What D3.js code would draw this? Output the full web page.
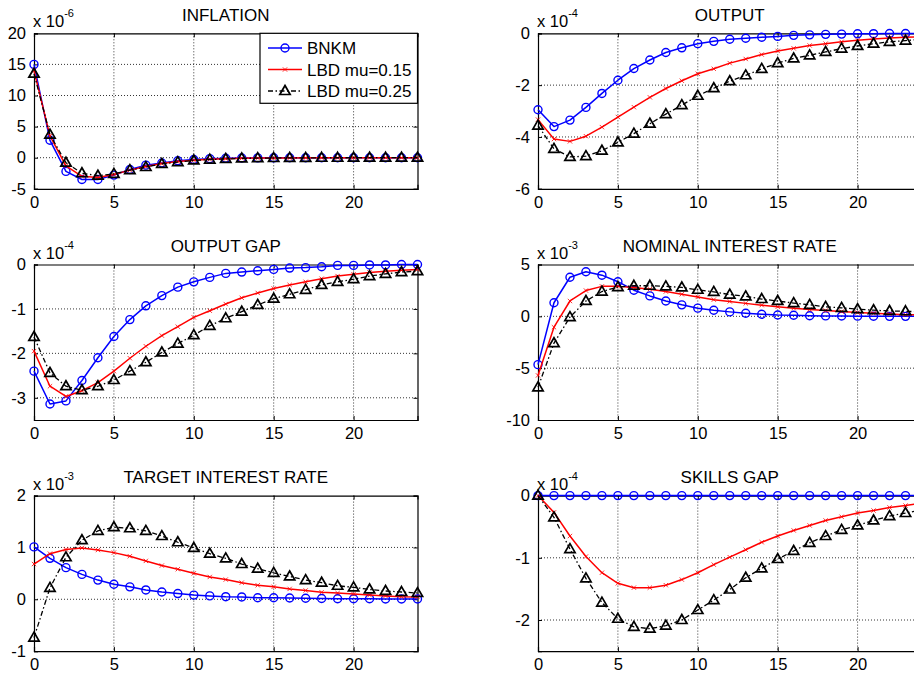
<!DOCTYPE html>
<html><head><meta charset="utf-8">
<script src="https://cdn.jsdelivr.net/npm/d3@7"></script>
<style>
body{margin:0;background:#fff}
svg{display:block;font-family:"Liberation Sans",Arial,Helvetica,sans-serif}
</style>
</head><body>
<svg id="chart" width="914" height="673"></svg>
<script>
// ---------------- DATA ----------------
const periods = d3.range(0, 25);
const xTickValues = [0, 5, 10, 15, 20];
const seriesNames = ["BNKM", "LBD mu=0.15", "LBD mu=0.25"];
const panelTitles = ["INFLATION", "OUTPUT", "OUTPUT GAP", "NOMINAL INTEREST RATE", "TARGET INTEREST RATE", "SKILLS GAP"];
const panelExponents = ["-6", "-4", "-4", "-3", "-3", "-4"];
const yDomains = [[-5, 20], [-6, 0], [-3.5, 0], [-10, 5], [-1, 2], [-2.5, 0]];
const yTickValues = [[-5, 0, 5, 10, 15, 20], [-6, -4, -2, 0], [-3, -2, -1, 0], [-10, -5, 0, 5], [-1, 0, 1, 2], [-2, -1, 0]];

// INFLATION (x 1e-6)
const inflationBNKM = [15.0, 2.8, -2.2, -3.5, -3.5, -2.8, -1.9, -1.2, -0.85, -0.5, -0.3, -0.15, -0.1, -0.05, -0.03, -0.02, -0.01, -0.01, 0, 0, 0, 0, 0, 0, 0];
const inflationLBD15 = [14.0, 3.5, -1.3, -3.0, -3.2, -2.7, -2.0, -1.4, -0.95, -0.6, -0.4, -0.25, -0.15, -0.1, -0.06, -0.04, -0.03, -0.02, -0.01, -0.01, 0, 0, 0, 0, 0];
const inflationLBD25 = [13.5, 3.7, -0.8, -2.5, -2.9, -2.6, -2.0, -1.5, -1.0, -0.7, -0.45, -0.3, -0.2, -0.12, -0.07, -0.05, -0.03, -0.02, -0.01, -0.01, 0, 0, 0, 0, 0];

// OUTPUT (x 1e-4)
const outputBNKM = [-2.95, -3.6, -3.35, -2.86, -2.32, -1.81, -1.36, -1.03, -0.74, -0.56, -0.40, -0.31, -0.23, -0.19, -0.15, -0.12, -0.08, -0.06, -0.04, -0.03, -0.02, -0.015, -0.01, -0.01, -0.005];
const outputLBD15 = [-3.33, -4.08, -4.17, -3.97, -3.62, -3.23, -2.85, -2.47, -2.13, -1.83, -1.56, -1.37, -1.15, -0.99, -0.82, -0.68, -0.58, -0.47, -0.40, -0.33, -0.27, -0.22, -0.18, -0.15, -0.13];
const outputLBD25 = [-3.56, -4.46, -4.77, -4.74, -4.53, -4.21, -3.87, -3.49, -3.12, -2.77, -2.41, -2.12, -1.85, -1.62, -1.37, -1.15, -0.97, -0.85, -0.72, -0.59, -0.49, -0.40, -0.33, -0.28, -0.23];

// OUTPUT GAP (x 1e-4)
const gapBNKM = [-2.40, -3.14, -3.07, -2.61, -2.10, -1.62, -1.24, -0.93, -0.70, -0.51, -0.39, -0.29, -0.20, -0.17, -0.14, -0.11, -0.08, -0.07, -0.05, -0.02, -0.02, -0.01, -0.01, 0, 0];
const gapLBD15 = [-1.95, -2.74, -2.97, -2.84, -2.66, -2.40, -2.11, -1.84, -1.60, -1.40, -1.19, -1.04, -0.89, -0.75, -0.64, -0.54, -0.46, -0.39, -0.32, -0.26, -0.22, -0.18, -0.15, -0.13, -0.11];
const gapLBD25 = [-1.63, -2.44, -2.74, -2.83, -2.74, -2.60, -2.40, -2.20, -1.98, -1.78, -1.59, -1.38, -1.21, -1.06, -0.91, -0.77, -0.67, -0.57, -0.46, -0.39, -0.33, -0.26, -0.21, -0.17, -0.15];

// NOMINAL INTEREST RATE (x 1e-3)
const nominalBNKM = [-4.66, 1.31, 3.77, 4.30, 3.97, 3.34, 2.52, 1.97, 1.48, 1.11, 0.79, 0.59, 0.43, 0.30, 0.20, 0.13, 0.10, 0.06, 0.04, 0.03, 0.02, 0.01, 0, 0, 0];
const nominalLBD15 = [-5.70, -1.05, 1.48, 2.49, 2.89, 2.89, 2.79, 2.62, 2.39, 2.13, 1.87, 1.61, 1.44, 1.25, 1.08, 0.92, 0.79, 0.66, 0.56, 0.46, 0.36, 0.30, 0.23, 0.16, 0.13];
const nominalLBD25 = [-6.85, -2.59, -0.07, 1.48, 2.39, 2.82, 2.95, 2.95, 2.89, 2.79, 2.56, 2.36, 2.10, 1.93, 1.67, 1.48, 1.28, 1.11, 0.92, 0.82, 0.69, 0.59, 0.52, 0.49, 0.43];

// TARGET INTEREST RATE (x 1e-3)
const targetBNKM = [1.01, 0.79, 0.61, 0.48, 0.37, 0.29, 0.24, 0.18, 0.14, 0.11, 0.08, 0.065, 0.05, 0.045, 0.03, 0.03, 0.025, 0.02, 0.015, 0.01, 0.01, 0.01, 0.005, 0.005, 0.005];
const targetLBD15 = [0.68, 0.88, 0.96, 0.99, 0.95, 0.90, 0.83, 0.74, 0.65, 0.58, 0.50, 0.43, 0.38, 0.32, 0.27, 0.24, 0.20, 0.17, 0.135, 0.12, 0.10, 0.08, 0.065, 0.05, 0.045];
const targetLBD25 = [-0.74, 0.22, 0.81, 1.14, 1.32, 1.39, 1.37, 1.32, 1.22, 1.10, 0.99, 0.88, 0.79, 0.68, 0.59, 0.51, 0.44, 0.37, 0.32, 0.26, 0.23, 0.19, 0.16, 0.14, 0.12];

// SKILLS GAP (x 1e-4)
const skillsBNKM = [0, 0, 0, 0, 0, 0, 0, 0, 0, 0, 0, 0, 0, 0, 0, 0, 0, 0, 0, 0, 0, 0, 0, 0, 0];
const skillsLBD15 = [0, -0.27, -0.65, -0.98, -1.24, -1.41, -1.48, -1.48, -1.44, -1.35, -1.24, -1.11, -0.99, -0.87, -0.75, -0.65, -0.56, -0.48, -0.40, -0.34, -0.28, -0.24, -0.19, -0.16, -0.12];
const skillsLBD25 = [0, -0.35, -0.86, -1.33, -1.72, -1.98, -2.11, -2.14, -2.09, -2.00, -1.84, -1.68, -1.51, -1.32, -1.17, -1.02, -0.89, -0.76, -0.65, -0.55, -0.48, -0.40, -0.33, -0.28, -0.23];

const panelSeries = [
  [inflationBNKM, inflationLBD15, inflationLBD25],
  [outputBNKM, outputLBD15, outputLBD25],
  [gapBNKM, gapLBD15, gapLBD25],
  [nominalBNKM, nominalLBD15, nominalLBD25],
  [targetBNKM, targetLBD15, targetLBD25],
  [skillsBNKM, skillsLBD15, skillsLBD25]
];

// ---------------- LAYOUT / STYLE ----------------
const colLefts = [34, 538];
const rowTops = [33.3, 264.5, 495.6];
const plotW = 383.5, plotH = 155.5;
const styles = [
  {color: "#0000ff", width: 1.5, dash: null, marker: "circle"},
  {color: "#ff0000", width: 1.5, dash: null, marker: "x"},
  {color: "#000000", width: 1.3, dash: "5,2.5,1.5,2.5", marker: "triangle"}
];
const tickFont = 16.5, titleFont = 17;
const plainNum = d => String(d);

const svg = d3.select("#chart");

function drawMarker(g, type, color, cx, cy) {
  if (type === "circle") {
    g.append("circle").attr("cx", cx).attr("cy", cy).attr("r", 4)
      .attr("fill", "none").attr("stroke", color).attr("stroke-width", 1.4);
  } else if (type === "x") {
    g.append("path").attr("transform", `translate(${cx},${cy})`)
      .attr("d", d3.symbol().type(d3.symbolTimes).size(14)())
      .attr("fill", color).attr("stroke", color).attr("stroke-width", 0.8);
  } else {
    g.append("path").attr("transform", `translate(${cx},${cy + 0.5})`)
      .attr("d", d3.symbol().type(d3.symbolTriangle).size(46)())
      .attr("fill", "none").attr("stroke", color).attr("stroke-width", 1.7)
      .attr("stroke-linejoin", "miter");
  }
}

panelTitles.forEach((title, i) => {
  const left = colLefts[i % 2], top = rowTops[Math.floor(i / 2)];
  const x = d3.scaleLinear().domain([0, 24]).range([left, left + plotW]);
  const y = d3.scaleLinear().domain(yDomains[i]).range([top + plotH, top]);
  const g = svg.append("g");

  // grid
  const grid = g.append("g").attr("stroke", "#000").attr("stroke-width", 0.8).attr("stroke-dasharray", "1,2");
  xTickValues.forEach(v => {
    if (v === 0) return;
    grid.append("line").attr("x1", x(v)).attr("x2", x(v)).attr("y1", top).attr("y2", top + plotH);
  });
  yTickValues[i].forEach(v => {
    if (v === yDomains[i][0] || v === yDomains[i][1]) return;
    grid.append("line").attr("x1", left).attr("x2", left + plotW).attr("y1", y(v)).attr("y2", y(v));
  });

  // axes via d3 axis (ticks inward)
  const axB = d3.axisBottom(x).tickValues(xTickValues).tickSize(-4).tickPadding(7).tickFormat(plainNum);
  const axT = d3.axisTop(x).tickValues(xTickValues).tickSize(-4).tickFormat("");
  const axL = d3.axisLeft(y).tickValues(yTickValues[i]).tickSize(-4).tickPadding(8).tickFormat(plainNum);
  const axR = d3.axisRight(y).tickValues(yTickValues[i]).tickSize(-4).tickFormat("");
  [[axB, `translate(0,${top + plotH})`], [axT, `translate(0,${top})`], [axL, `translate(${left},0)`], [axR, `translate(${left + plotW},0)`]].forEach(([ax, tr]) => {
    const a = g.append("g").attr("transform", tr).call(ax);
    a.select(".domain").attr("stroke", "#000").attr("stroke-width", 1.2);
    a.selectAll(".tick line").attr("stroke", "#000").attr("stroke-width", 1);
    a.selectAll("text").attr("font-size", tickFont).attr("fill", "#000")
      .attr("font-family", '"Liberation Sans",Arial,sans-serif');
  });

  // title
  g.append("text").attr("x", left + plotW / 2).attr("y", top - 12.5)
    .attr("text-anchor", "middle").attr("font-size", titleFont).attr("fill", "#000").text(title);

  // exponent
  const ex = g.append("text").attr("x", left - 1).attr("y", top - 6).attr("font-size", 16.5).attr("fill", "#000");
  ex.append("tspan").text("x 10");
  ex.append("tspan").attr("font-size", 11).attr("dy", -10).text(panelExponents[i]);

  // series
  panelSeries[i].forEach((vals, s) => {
    const st = styles[s];
    const line = d3.line().x((d, k) => x(periods[k])).y(d => y(d));
    g.append("path").datum(vals).attr("d", line).attr("fill", "none")
      .attr("stroke", st.color).attr("stroke-width", st.width)
      .attr("stroke-dasharray", st.dash).attr("stroke-linejoin", "round");
    const mg = g.append("g");
    vals.forEach((v, k) => drawMarker(mg, st.marker, st.color, x(periods[k]), y(v)));
  });

  // legend (first panel only)
  if (i === 0) {
    const lx = 260, ly = top, lw = left + plotW - lx, lh = 70;
    const lg = g.append("g");
    lg.append("rect").attr("x", lx).attr("y", ly).attr("width", lw).attr("height", lh)
      .attr("fill", "#fff").attr("stroke", "#000").attr("stroke-width", 1.2);
    const rowY = [48, 69.5, 91];
    seriesNames.forEach((name, s) => {
      const st = styles[s];
      lg.append("line").attr("x1", 268).attr("x2", 302).attr("y1", rowY[s]).attr("y2", rowY[s])
        .attr("stroke", st.color).attr("stroke-width", st.width).attr("stroke-dasharray", st.dash);
      drawMarker(lg, st.marker, st.color, 285, rowY[s]);
      lg.append("text").attr("x", 307).attr("y", rowY[s] + 6).attr("font-size", titleFont)
        .attr("fill", "#000").text(name);
    });
  }
});
</script>
</body></html>
